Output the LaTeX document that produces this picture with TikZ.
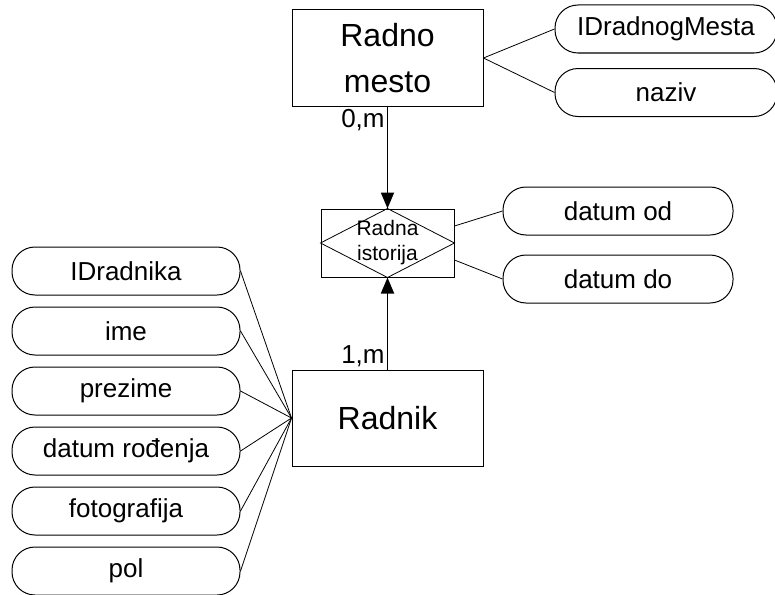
\documentclass[tikz,border=0pt]{standalone}
\usepackage{fontspec}
\setmainfont{Liberation Sans}
\usetikzlibrary{arrows.meta}

\begin{document}
\begin{tikzpicture}[x=1pt,y=-1pt,
    entity/.style={draw,line width=1pt,minimum width=191pt,minimum height=96pt,
        align=center,font=\fontsize{32}{46}\selectfont},
    attrib/.style={draw,line width=1pt,rounded corners=23pt,minimum height=48pt,
        inner sep=0pt,font=\fontsize{26}{30}\selectfont},
    link/.style={line width=0.8pt},
    arr/.style={line width=1.8pt,-{Triangle[length=16pt,width=13pt]}},
    card/.style={font=\fontsize{26}{30}\selectfont,inner sep=2pt}]
    \useasboundingbox (0,0) rectangle (775,594);
    % entiteti
    \node [entity] (mesto)  at (387.5,58)  {Radno\\mesto};
    \node [entity] (radnik) at (387.5,418) {Radnik};
    % veza
    \node [draw,line width=1pt,minimum width=133pt,minimum height=68pt,inner sep=0pt]
        (istorija) at (387.5,243) {};
    \draw [line width=0.8pt] (istorija.north) -- (istorija.east) -- (istorija.south)
        -- (istorija.west) -- cycle;
    \node [align=center,font=\fontsize{21}{25}\selectfont] at (istorija.center) {Radna\\istorija};
    % atributi
    \node [attrib,minimum width=222pt] (idmesta) at (666,29)   {IDradnogMesta};
    \node [attrib,minimum width=222pt] (naziv)   at (666,92.5) {naziv};
    \node [attrib,minimum width=230pt] (od)      at (618,211)  {datum od};
    \node [attrib,minimum width=230pt] (do)      at (618,279)  {datum do};
    \foreach \id/\txt [count=\i from 0] in {idr/IDradnika,ime/ime,prez/prezime,
            datr/datum rođenja,foto/fotografija,pol/pol}{
        \node [attrib,minimum width=228pt] (\id) at (126,271+60*\i) {\txt};
        \draw [link] (\id.east) -- (radnik.west);
    }
    \draw [link] (mesto.east) -- (idmesta.west);
    \draw [link] (mesto.east) -- (naziv.west);
    \draw [link] ([yshift=17pt]istorija.east) -- (od.west);
    \draw [link] ([yshift=-17pt]istorija.east) -- (do.west);
    % kardinalnosti
    \draw [arr] (mesto) -- (istorija) node [card,pos=0,below left] {0,m};
    \draw [arr] (radnik) -- (istorija) node [card,pos=0,above left] {1,m};
\end{tikzpicture}
\end{document}
